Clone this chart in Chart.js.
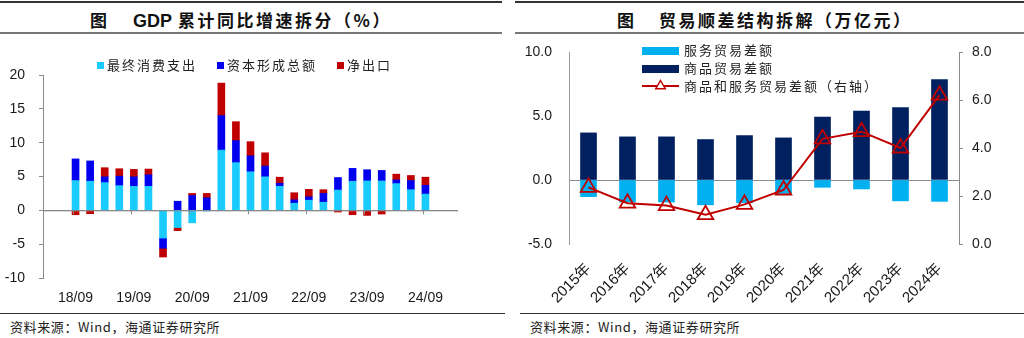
<!DOCTYPE html>
<html><head><meta charset="utf-8">
<script src="https://cdn.jsdelivr.net/npm/chart.js"></script>
<style>
html,body{margin:0;padding:0;background:#fff;width:1024px;height:338px;overflow:hidden;position:relative;font-family:"Noto Sans CJK SC",sans-serif;}
.line{position:absolute;}
.title{position:absolute;top:9px;font-size:17px;font-weight:bold;color:#111;letter-spacing:2.5px;white-space:nowrap;line-height:22px;}
.lat{letter-spacing:0;font-family:'Liberation Sans',Arial,sans-serif;font-size:18px;margin-right:6px;}
.src{position:absolute;top:318px;font-size:13px;color:#222;letter-spacing:0.6px;white-space:nowrap;line-height:18px;}
canvas{position:absolute;top:0;}
</style></head>
<body>
<div class="line" style="left:0;top:1px;width:502px;height:1.5px;background:#333"></div>
<div class="line" style="left:0;top:32px;width:502px;height:2px;background:#777"></div>
<div class="line" style="left:515px;top:1px;width:509px;height:1.5px;background:#333"></div>
<div class="line" style="left:515px;top:32px;width:509px;height:2px;background:#777"></div>
<div class="title" style="left:90px">图</div>
<div class="title" style="left:133px"><span class="lat">GDP</span>累计同比增速拆分（%）</div>
<div class="title" style="left:617px">图</div>
<div class="title" style="left:659px">贸易顺差结构拆解（万亿元）</div>
<canvas id="c1" width="505" height="312" style="left:0"></canvas>
<canvas id="c2" width="512" height="312" style="left:512px"></canvas>
<div class="line" style="left:0;top:313px;width:505px;height:1px;background:#333"></div>
<div class="line" style="left:520px;top:313px;width:504px;height:1px;background:#333"></div>
<div class="src" style="left:10px">资料来源：Wind，海通证券研究所</div>
<div class="src" style="left:530px">资料来源：Wind，海通证券研究所</div>
<script>
// ---------- Left chart data ----------
const quarters = ['18/09','18/12','19/03','19/06','19/09','19/12','20/03','20/06','20/09','20/12','21/03','21/06','21/09','21/12','22/03','22/06','22/09','22/12','23/03','23/06','23/09','23/12','24/03','24/06','24/09'];
const consumption = [4.4,4.3,4.1,3.65,3.55,3.55,-4.1,-2.55,-1.85,-0.1,8.9,7.05,5.7,4.95,3.55,1.05,1.5,1.2,3.0,4.3,4.35,4.35,3.95,3.05,2.4];
const capital = [3.2,3.0,0.85,1.4,1.4,1.7,-1.5,1.35,2.2,1.85,5.1,3.25,2.35,1.6,0.45,0.5,0.5,1.3,1.85,1.9,1.65,1.55,0.55,1.35,1.3];
const netExport = [-0.65,-0.5,1.35,1.1,1.1,0.85,-1.3,-0.45,0.3,0.65,4.8,2.8,2.1,1.95,0.9,1.05,1.1,0.55,-0.25,-0.65,-0.75,-0.55,0.85,0.75,1.2];
const leftTicks = [-10,-5,0,5,10,15,20];

// ---------- Right chart data ----------
const years = ['2015年','2016年','2017年','2018年','2019年','2020年','2021年','2022年','2023年','2024年'];
const services = [-1.3,-1.72,-1.72,-1.94,-1.78,-1.05,-0.57,-0.7,-1.63,-1.67];
const goods = [3.68,3.37,3.37,3.16,3.47,3.29,4.92,5.39,5.65,7.85];
const totalBalance = [2.36,1.7,1.6,1.22,1.65,2.25,4.38,4.68,4.0,6.2];

const NUMFONT = "'Liberation Sans', Arial, 'Noto Sans CJK SC', sans-serif";
const CJK = "'Noto Sans CJK SC', sans-serif";
const toXY = arr => arr.map((v,i)=>({x:i,y:v}));

const zeroGrid = c => (c.tick && c.tick.value === 0) ? '#8a8a8a' : 'rgba(0,0,0,0)';

const leftLegend = {
  id:'leftLegend',
  afterDraw(chart){
    const ctx = chart.ctx; ctx.save();
    ctx.font = "13px " + CJK; ctx.letterSpacing = '2px'; ctx.textBaseline = 'middle';
    const xs = [97,217,337];
    chart.data.datasets.forEach((ds,i)=>{
      ctx.fillStyle = ds.backgroundColor; ctx.fillRect(xs[i],62,7,7);
      ctx.fillStyle = '#222'; ctx.fillText(ds.label, xs[i]+10, 65.5);
    });
    ctx.restore();
  }
};
const leftTickMarks = {
  id:'leftTickMarks',
  afterDatasetsDraw(chart){
    const ctx = chart.ctx, xs = chart.scales.x, ys = chart.scales.y;
    const y0 = ys.getPixelForValue(0);
    ctx.save(); ctx.strokeStyle = '#8a8a8a'; ctx.lineWidth = 1;
    ctx.beginPath(); ctx.moveTo(chart.chartArea.left, y0+0.5); ctx.lineTo(chart.chartArea.right, y0+0.5); ctx.stroke();
    xs.ticks.forEach(t=>{
      const x = Math.round(xs.getPixelForValue(t.value - 0.2)) + 0.5;
      ctx.beginPath(); ctx.moveTo(x, y0); ctx.lineTo(x, y0+4); ctx.stroke();
    });
    ctx.restore();
  }
};

new Chart(document.getElementById('c1'), {
  type:'bar',
  data:{ datasets:[
    {label:'最终消费支出', data:toXY(consumption), backgroundColor:'#1ACBFF'},
    {label:'资本形成总额', data:toXY(capital), backgroundColor:'#0000EE'},
    {label:'净出口', data:toXY(netExport), backgroundColor:'#C00000'}
  ]},
  options:{
    responsive:false, animation:false, devicePixelRatio:1,
    layout:{padding:{top:75,right:47,left:0,bottom:0}},
    datasets:{bar:{barThickness:7}},
    plugins:{legend:{display:false}, tooltip:{enabled:false}},
    scales:{
      x:{ type:'linear', stacked:true, min:-0.2, max:quarters.length-0.8,
          afterBuildTicks: s => { s.ticks = quarters.map((q,i)=>({value:i})).filter(t=>t.value%4===0); },
          afterFit: s => { s.height = 34; },
          grid:{display:false}, border:{display:false},
          ticks:{ callback: v => quarters[v] ?? '', padding:4, maxRotation:0, autoSkip:false, color:'#1a1a1a', font:{family:NUMFONT, size:14}} },
      y:{ stacked:true, min:leftTicks[0], max:leftTicks[leftTicks.length-1],
          afterBuildTicks: s => { s.ticks = leftTicks.map(v=>({value:v})); },
          afterFit: s => { s.width = 43; },
          border:{color:'#8a8a8a'},
          grid:{color:zeroGrid, tickColor:'#8a8a8a', tickLength:4},
          ticks:{ padding:14, color:'#1a1a1a', font:{family:NUMFONT, size:14}} }
    }
  },
  plugins:[leftLegend, leftTickMarks]
});

const rightLegend = {
  id:'rightLegend',
  afterDraw(chart){
    const ctx = chart.ctx; ctx.save();
    ctx.font = "13px " + CJK; ctx.letterSpacing = '2px'; ctx.textBaseline = 'middle';
    const ds = chart.data.datasets;
    const bx = 130, bw = 37;
    ctx.fillStyle = ds[0].backgroundColor; ctx.fillRect(bx,47,bw,8);
    ctx.fillStyle = '#222'; ctx.fillText(ds[0].label, bx+42, 50);
    ctx.fillStyle = ds[1].backgroundColor; ctx.fillRect(bx,65,bw,8);
    ctx.fillStyle = '#222'; ctx.fillText(ds[1].label, bx+42, 68.5);
    ctx.strokeStyle = ds[2].borderColor; ctx.lineWidth = 2;
    ctx.beginPath(); ctx.moveTo(bx,86); ctx.lineTo(bx+bw,86); ctx.stroke();
    const cx = bx+bw/2, cy = 86, r = 5.5;
    ctx.fillStyle = '#fff'; ctx.lineWidth = 1.5;
    ctx.beginPath(); ctx.moveTo(cx, cy-r); ctx.lineTo(cx+r*0.866, cy+r/2); ctx.lineTo(cx-r*0.866, cy+r/2); ctx.closePath(); ctx.fill(); ctx.stroke();
    ctx.fillStyle = '#222'; ctx.fillText(ds[2].label, bx+42, 86.5);
    ctx.restore();
  }
};

new Chart(document.getElementById('c2'), {
  type:'bar',
  data:{ labels:years, datasets:[
    {label:'服务贸易差额', data:services, backgroundColor:'#00B0F0', order:2, yAxisID:'y'},
    {label:'商品贸易差额', data:goods, backgroundColor:'#002060', order:1, yAxisID:'y'},
    {label:'商品和服务贸易差额（右轴）', type:'line', data:totalBalance, yAxisID:'y1', order:0,
     borderColor:'#C00000', borderWidth:2, pointStyle:'triangle', pointRadius:9, pointBorderWidth:1.8,
     pointBackgroundColor:'rgba(0,0,0,0)', pointBorderColor:'#C00000', tension:0}
  ]},
  options:{
    responsive:false, animation:false, devicePixelRatio:1,
    layout:{padding:{top:52,right:0,left:0,bottom:0}},
    datasets:{bar:{barThickness:16}},
    plugins:{legend:{display:false}, tooltip:{enabled:false}},
    scales:{
      x:{ stacked:true, grid:{display:false}, border:{display:false},
          afterFit: s => { s.height = 68; },
          ticks:{ minRotation:45, maxRotation:45, autoSkip:false, padding:8, color:'#1a1a1a', font:{family:NUMFONT, size:15}} },
      y:{ stacked:true, position:'left', min:-5, max:10,
          afterBuildTicks: s => { s.ticks = [-5,0,5,10].map(v=>({value:v})); },
          afterFit: s => { s.width = 57; },
          border:{color:'#9a9a9a'},
          grid:{color:zeroGrid, drawTicks:false},
          ticks:{ padding:17, callback: v => Number(v).toFixed(1), color:'#1a1a1a', font:{family:NUMFONT, size:14}} },
      y1:{ position:'right', min:0, max:8,
          afterBuildTicks: s => { s.ticks = [0,2,4,6,8].map(v=>({value:v})); },
          afterFit: s => { s.width = 65; },
          border:{color:'#8a8a8a'},
          grid:{drawOnChartArea:false, color:'#8a8a8a', tickLength:4},
          ticks:{ padding:9, callback: v => Number(v).toFixed(1), color:'#1a1a1a', font:{family:NUMFONT, size:14}} }
    }
  },
  plugins:[rightLegend]
});
</script>
</body></html>
